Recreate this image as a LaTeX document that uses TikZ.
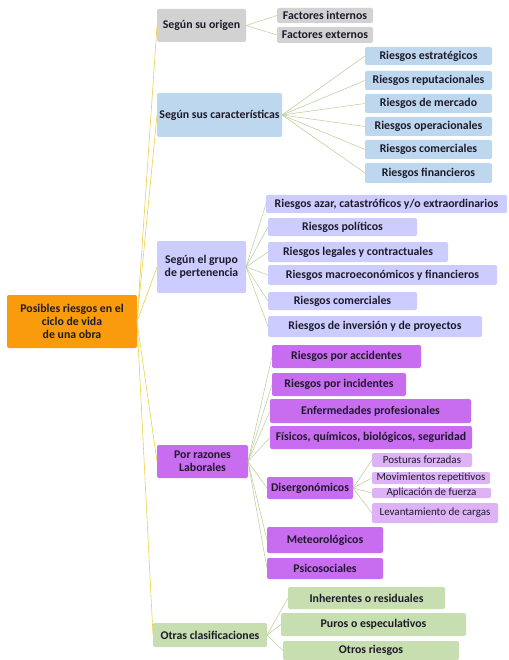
\documentclass[tikz,border=0pt]{standalone}
\usepackage{fontspec}
\setmainfont{Carlito}
\usepackage{xcolor}
\usetikzlibrary{positioning}
\definecolor{naranja}{HTML}{F99B0C}
\definecolor{gris}{HTML}{D2D2D2}
\definecolor{celeste}{HTML}{BDD7EE}
\definecolor{lavanda}{HTML}{CCCCFF}
\definecolor{morado}{HTML}{C86CF0}
\definecolor{malva}{HTML}{DDB3F5}
\definecolor{verde}{HTML}{C6DEB0}
\definecolor{tinta}{HTML}{1E1A2A}
\definecolor{amarillo}{HTML}{E8D24A}
\definecolor{hoja}{HTML}{B9CC94}

\begin{document}
\begin{tikzpicture}[x=1pt,y=-1pt,
	caja/.style={anchor=north west, inner sep=0pt, outer sep=0pt, rounded corners=2pt, align=center, text=tinta, font=\bfseries\fontsize{11.8}{13}\selectfont},
	suave/.style={caja, font=\fontsize{11}{12}\selectfont},
	tronco/.style={amarillo, line width=.6pt},
	rama/.style={hoja, line width=.5pt}]
	\useasboundingbox (0,0) rectangle (508,660);
	
	% raiz
	\node[caja, fill=naranja, minimum width=130pt, minimum height=53pt] (raiz) at (7,295) {Posibles riesgos en el\\ciclo de vida\\de una obra};
	
	% primer nivel
	\node[caja, fill=gris, minimum width=89pt, minimum height=33pt] (origen) at (157,9) {Según su origen};
	\node[caja, fill=celeste, minimum width=125pt, minimum height=44pt] (caract) at (157,93) {Según sus características};
	\node[caja, fill=lavanda, minimum width=89pt, minimum height=52pt] (grupo) at (157,241) {Según el grupo\\de pertenencia};
	\node[caja, fill=morado, minimum width=91pt, minimum height=33pt] (labor) at (157,445) {Por razones\\Laborales};
	\node[caja, fill=verde, minimum width=114pt, minimum height=24pt] (otras) at (153,623) {Otras clasificaciones};
	
	% origen
	\node[caja, fill=gris, minimum width=96pt, minimum height=15pt] (fi) at (277,8) {Factores internos};
	\node[caja, fill=gris, minimum width=96pt, minimum height=16pt] (fe) at (277,27) {Factores externos};
	
	% caracteristicas
	\node[caja, fill=celeste, minimum width=127pt, minimum height=18pt] (c1) at (365,47) {Riesgos estratégicos};
	\node[caja, fill=celeste, minimum width=127pt, minimum height=19pt] (c2) at (365,71) {Riesgos reputacionales};
	\node[caja, fill=celeste, minimum width=127pt, minimum height=19pt] (c3) at (365,94) {Riesgos de mercado};
	\node[caja, fill=celeste, minimum width=127pt, minimum height=19pt] (c4) at (365,117) {Riesgos operacionales};
	\node[caja, fill=celeste, minimum width=127pt, minimum height=19pt] (c5) at (365,140) {Riesgos comerciales};
	\node[caja, fill=celeste, minimum width=127pt, minimum height=20pt] (c6) at (365,163) {Riesgos financieros};
	
	% grupo de pertenencia
	\node[caja, fill=lavanda, minimum width=241pt, minimum height=18pt] (g1) at (266,195) {Riesgos azar, catastróficos y/o extraordinarios};
	\node[caja, fill=lavanda, minimum width=149pt, minimum height=18pt] (g2) at (268,218) {Riesgos políticos};
	\node[caja, fill=lavanda, minimum width=180pt, minimum height=20pt] (g3) at (268,242) {Riesgos legales y contractuales};
	\node[caja, fill=lavanda, minimum width=229pt, minimum height=20pt] (g4) at (268,265) {Riesgos macroeconómicos y financieros};
	\node[caja, fill=lavanda, minimum width=149pt, minimum height=18pt] (g5) at (268,292) {Riesgos comerciales};
	\node[caja, fill=lavanda, minimum width=214pt, minimum height=21pt] (g6) at (268,316) {Riesgos de inversión y de proyectos};
	
	% laborales
	\node[caja, fill=morado, minimum width=149pt, minimum height=23pt] (l1) at (272,345) {Riesgos por accidentes};
	\node[caja, fill=morado, minimum width=134pt, minimum height=23pt] (l2) at (272,373) {Riesgos por incidentes};
	\node[caja, fill=morado, minimum width=201pt, minimum height=24pt] (l3) at (270,399) {Enfermedades profesionales};
	\node[caja, fill=morado, minimum width=202pt, minimum height=23pt] (l4) at (270,426) {Físicos, químicos, biológicos, seguridad};
	\node[caja, fill=morado, minimum width=86pt, minimum height=22pt] (l5) at (267,477) {Disergonómicos};
	\node[caja, fill=morado, minimum width=116pt, minimum height=26pt] (l6) at (267,527) {Meteorológicos};
	\node[caja, fill=morado, minimum width=116pt, minimum height=21pt] (l7) at (267,558) {Psicosociales};
	
	% disergonomicos
	\node[suave, fill=malva, minimum width=100pt, minimum height=14pt] (e1) at (372,453) {Posturas forzadas};
	\node[suave, fill=malva, minimum width=118pt, minimum height=12pt] (e2) at (372,472) {Movimientos repetitivos};
	\node[suave, fill=malva, minimum width=119pt, minimum height=10pt] (e3) at (372,488) {Aplicación de fuerza};
	\node[suave, fill=malva, minimum width=126pt, minimum height=20pt] (e4) at (372,503) {Levantamiento de cargas};
	
	% otras
	\node[caja, fill=verde, minimum width=157pt, minimum height=22pt] (o1) at (288,587) {Inherentes o residuales};
	\node[caja, fill=verde, minimum width=185pt, minimum height=23pt] (o2) at (281,613) {Puros o especulativos};
	\node[caja, fill=verde, minimum width=176pt, minimum height=19pt] (o3) at (283,641) {Otros riesgos};
	
	% lineas
	\foreach \h in {origen,caract,grupo,labor,otras}
		\draw[tronco] (raiz.east) -- (\h.west);
	\foreach \h in {fi,fe}
		\draw[rama] (origen.east) -- (\h.west);
	\foreach \h in {c1,c2,c3,c4,c5,c6}
		\draw[rama] (caract.east) -- (\h.west);
	\foreach \h in {g1,g2,g3,g4,g5,g6}
		\draw[rama] (grupo.east) -- (\h.west);
	\foreach \h in {l1,l2,l3,l4,l5,l6,l7}
		\draw[rama] (labor.east) -- (\h.west);
	\foreach \h in {e1,e2,e3,e4}
		\draw[rama] (l5.east) -- (\h.west);
	\foreach \h in {o1,o2,o3}
		\draw[rama] (otras.east) -- (\h.west);
\end{tikzpicture}
\end{document}
